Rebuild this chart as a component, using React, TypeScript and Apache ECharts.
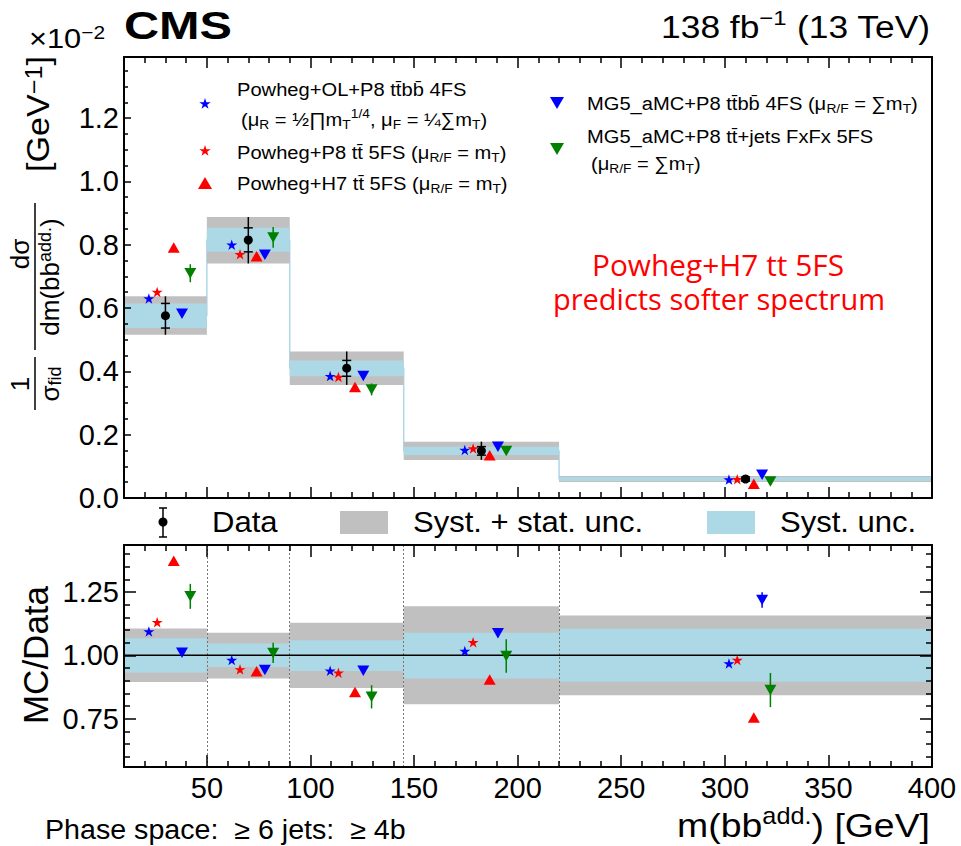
import React, { useEffect, useRef } from 'react';
import * as echarts from 'echarts';

// Bin edges of m(bb add.) in GeV
const binEdges = [10, 50, 90, 145, 220, 400];

// Measured normalised differential cross section, in units of 10^-2 GeV^-1
const dataXsec = [0.576, 0.815, 0.41, 0.149, 0.06];

// Uncertainty bands, expressed relative to the measured value
const totalUncLow = [0.895, 0.909, 0.871, 0.807, 0.843];
const totalUncHigh = [1.106, 1.089, 1.129, 1.194, 1.157];
const systUncLow = [0.932, 0.954, 0.938, 0.909, 0.896];
const systUncHigh = [1.067, 1.047, 1.06, 1.089, 1.105];

// Predictions (10^-2 GeV^-1)
const powhegOLTtbb4FS = [0.63, 0.8, 0.385, 0.1515, 0.0581];
const powhegP8Tt5FS = [0.651, 0.77, 0.382, 0.1567, 0.0589];
const powhegH7Tt5FS = [0.791, 0.764, 0.351, 0.1348, 0.0453];
const mg5Ttbb4FS = [0.582, 0.768, 0.385, 0.162, 0.0731];
const mg5TtJetsFxFx = [0.71, 0.823, 0.343, 0.1486, 0.0518];
// Relative statistical uncertainty of the MG5_aMC samples
const mg5Ttbb4FSStat = [0.008, 0.006, 0.008, 0.015, 0.025];
const mg5TtJetsFxFxStat = [0.04, 0.04, 0.055, 0.066, 0.078];

// Axis ticks
const xMajorTicks = [50, 100, 150, 200, 250, 300, 350, 400];
const xMinorTicks = [20, 30, 40, 60, 70, 80, 90, 110, 120, 130, 140, 160, 170, 180, 190, 210, 220, 230, 240,
  260, 270, 280, 290, 310, 320, 330, 340, 360, 370, 380, 390];
const xTickLabels = ['50', '100', '150', '200', '250', '300', '350', '400'];
const topYMajorTicks = [0, 0.2, 0.4, 0.6, 0.8, 1.0, 1.2];
const topYMinorTicks = [0.05, 0.1, 0.15, 0.25, 0.3, 0.35, 0.45, 0.5, 0.55, 0.65, 0.7, 0.75, 0.85, 0.9, 0.95,
  1.05, 1.1, 1.15, 1.25, 1.3, 1.35];
const topYTickLabels = ['0.0', '0.2', '0.4', '0.6', '0.8', '1.0', '1.2'];
const ratioYMajorTicks = [0.75, 1.0, 1.25];
const ratioYMinorTicks = [0.6, 0.65, 0.7, 0.8, 0.85, 0.9, 0.95, 1.05, 1.1, 1.15, 1.2, 1.3, 1.35, 1.4];
const ratioYTickLabels = ['0.75', '1.00', '1.25'];

const X_MIN = 10;
const X_MAX = 400;
const TOP_Y_MAX = 1.393;
const RATIO_Y_MIN = 0.56;
const RATIO_Y_MAX = 1.435;

const FONT = '"Liberation Sans", Arial, Helvetica, sans-serif';
const GRAY = '#c0c0c0';
const LIGHT_BLUE = '#add8e6';
const BLUE = '#0000ff';
const RED = '#ff0000';
const GREEN = '#008000';

const STAR = 'path://M0,-10L2.245,-3.09L9.511,-3.09L3.633,1.18L5.878,8.09L0,3.82L-5.878,8.09L-3.633,1.18L-9.511,-3.09L-2.245,-3.09Z';
const UP_TRI = 'path://M10,0L20,17L0,17Z';
const DOWN_TRI = 'path://M0,0L20,0L10,17Z';

type Model = {
  values: number[];
  color: string;
  symbol: string;
  size: number[];
  offset: number;
  stat?: number[];
};

const models: Model[] = [
  { values: powhegOLTtbb4FS, color: BLUE, symbol: STAR, size: [11, 10.5], offset: -8 },
  { values: powhegP8Tt5FS, color: RED, symbol: STAR, size: [11, 10.5], offset: -4 },
  { values: powhegH7Tt5FS, color: RED, symbol: UP_TRI, size: [12, 10.5], offset: 4 },
  { values: mg5Ttbb4FS, color: BLUE, symbol: DOWN_TRI, size: [12, 10.5], offset: 8, stat: mg5Ttbb4FSStat },
  { values: mg5TtJetsFxFx, color: GREEN, symbol: DOWN_TRI, size: [12, 10.5], offset: 12, stat: mg5TtJetsFxFxStat },
];

const binCenters = binEdges.slice(0, -1).map((lo, i) => (lo + binEdges[i + 1]) / 2);

function tickAxis(
  gridIndex: number,
  position: string,
  min: number,
  max: number,
  ticks: number[],
  length: number,
  showLine: boolean,
  labels?: { values: number[]; texts: string[]; margin: number },
) {
  return {
    type: 'value',
    gridIndex,
    position,
    min,
    max,
    z: 10,
    axisLine: { show: showLine, onZero: false, lineStyle: { color: '#000', width: 2 } },
    axisTick: { show: ticks.length > 0, inside: true, length, customValues: ticks, lineStyle: { color: '#000', width: 1.5 } },
    axisLabel: labels
      ? {
          show: true,
          customValues: labels.values,
          formatter: (v: number) => {
            const k = labels.values.findIndex((t) => Math.abs(t - v) < 1e-9);
            return k >= 0 ? labels.texts[k] : '';
          },
          margin: labels.margin,
          fontSize: 29,
          fontFamily: FONT,
          color: '#000',
        }
      : { show: false },
    splitLine: { show: false },
    minorTick: { show: false },
  };
}

function rectRender(_params: any, api: any) {
  const p0 = api.coord([api.value(0), api.value(3)]);
  const p1 = api.coord([api.value(1), api.value(2)]);
  return {
    type: 'rect',
    shape: { x: p0[0], y: p0[1], width: p1[0] - p0[0], height: p1[1] - p0[1] },
    style: { fill: api.visual('color') },
  };
}

function bandSeries(xi: number, yi: number, lo: number[], hi: number[], scale: number[], color: string, z: number) {
  return {
    type: 'custom',
    xAxisIndex: xi,
    yAxisIndex: yi,
    z,
    silent: true,
    itemStyle: { color },
    encode: { x: [0, 1], y: [2, 3] },
    data: binCenters.map((_, i) => [binEdges[i], binEdges[i + 1], lo[i] * scale[i], hi[i] * scale[i]]),
    renderItem: rectRender,
  };
}

function verticalBarSeries(xi: number, yi: number, items: number[][], color: string, z: number) {
  return {
    type: 'custom',
    xAxisIndex: xi,
    yAxisIndex: yi,
    z,
    silent: true,
    encode: { x: 0, y: [1, 2] },
    data: items,
    renderItem: (_p: any, api: any) => {
      const a = api.coord([api.value(0), api.value(1)]);
      const b = api.coord([api.value(0), api.value(2)]);
      return {
        type: 'line',
        shape: { x1: a[0], y1: a[1], x2: b[0], y2: b[1] },
        style: { stroke: color, lineWidth: 1.5 },
      };
    },
  };
}

function modelSeries(xi: number, yi: number, ratio: boolean) {
  const out: any[] = [];
  models.forEach((m) => {
    const ys = m.values.map((v, i) => (ratio ? v / dataXsec[i] : v));
    if (m.stat) {
      const items = ys.map((y, i) => [binCenters[i] + m.offset, y * (1 - m.stat![i]), y * (1 + m.stat![i])]);
      out.push(verticalBarSeries(xi, yi, items, m.color, 6));
    }
    out.push({
      type: 'scatter',
      xAxisIndex: xi,
      yAxisIndex: yi,
      z: 7,
      silent: true,
      symbol: m.symbol,
      symbolSize: m.size,
      itemStyle: { color: m.color, opacity: 1 },
      data: ys.map((y, i) => [binCenters[i] + m.offset, y]),
    });
  });
  return out;
}

function buildSeries() {
  const ones = dataXsec.map(() => 1);
  const series: any[] = [];

  // Upper panel: measured distribution drawn as a light blue step outline under the bands
  const stepPoints = binEdges.map((e, i) => [e, dataXsec[Math.min(i, dataXsec.length - 1)]]);
  series.push({
    type: 'line',
    xAxisIndex: 0,
    yAxisIndex: 0,
    z: 1,
    silent: true,
    step: 'end',
    showSymbol: false,
    symbol: 'none',
    lineStyle: { color: LIGHT_BLUE, width: 1.5 },
    data: stepPoints,
  });
  series.push(bandSeries(0, 0, totalUncLow, totalUncHigh, dataXsec, GRAY, 2));
  series.push(bandSeries(0, 0, systUncLow, systUncHigh, dataXsec, LIGHT_BLUE, 3));

  // Data points with total (line) and systematic (ticks) uncertainties
  series.push({
    type: 'custom',
    xAxisIndex: 0,
    yAxisIndex: 0,
    z: 8,
    silent: true,
    encode: { x: 0, y: [1, 2, 3, 4] },
    data: dataXsec.map((v, i) => [binCenters[i], v * totalUncLow[i], v * totalUncHigh[i], v * systUncLow[i], v * systUncHigh[i]]),
    renderItem: (_p: any, api: any) => {
      const x = api.value(0);
      const lo = api.coord([x, api.value(1)]);
      const hi = api.coord([x, api.value(2)]);
      const sLo = api.coord([x, api.value(3)]);
      const sHi = api.coord([x, api.value(4)]);
      const st = { stroke: '#000', lineWidth: 1.5 };
      return {
        type: 'group',
        children: [
          { type: 'line', shape: { x1: lo[0], y1: lo[1], x2: hi[0], y2: hi[1] }, style: st },
          { type: 'line', shape: { x1: sLo[0] - 4.5, y1: sLo[1], x2: sLo[0] + 4.5, y2: sLo[1] }, style: st },
          { type: 'line', shape: { x1: sHi[0] - 4.5, y1: sHi[1], x2: sHi[0] + 4.5, y2: sHi[1] }, style: st },
        ],
      };
    },
  });
  series.push(...modelSeries(0, 0, false));
  series.push({
    type: 'scatter',
    xAxisIndex: 0,
    yAxisIndex: 0,
    z: 9,
    silent: true,
    symbol: 'circle',
    symbolSize: 9,
    itemStyle: { color: '#000', opacity: 1 },
    data: dataXsec.map((v, i) => [binCenters[i], v]),
  });

  // Lower panel: MC / Data
  series.push(bandSeries(4, 3, totalUncLow, totalUncHigh, ones, GRAY, 2));
  series.push(bandSeries(4, 3, systUncLow, systUncHigh, ones, LIGHT_BLUE, 3));
  series.push({
    type: 'line',
    xAxisIndex: 4,
    yAxisIndex: 3,
    z: 5,
    silent: true,
    showSymbol: false,
    symbol: 'none',
    lineStyle: { color: '#000', width: 1.5 },
    data: [[X_MIN, 1], [X_MAX, 1]],
    markLine: {
      silent: true,
      symbol: ['none', 'none'],
      label: { show: false },
      lineStyle: { type: [2, 2], color: '#777', width: 1 },
      data: binEdges.slice(1, -1).map((e) => ({ xAxis: e })),
    },
  });
  series.push(...modelSeries(4, 3, true));
  return series;
}

function starPoints(cx: number, cy: number, r: number) {
  const pts: number[][] = [];
  for (let k = 0; k < 10; k++) {
    const rr = k % 2 === 0 ? r : r * 0.382;
    const a = -Math.PI / 2 + (k * Math.PI) / 5;
    pts.push([cx + rr * Math.cos(a), cy + rr * Math.sin(a)]);
  }
  return pts;
}

const subSup = (size: number, supScale = 0.68) => ({
  sub: { fontSize: Math.round(size * 0.68), lineHeight: Math.round(size * 0.68), verticalAlign: 'bottom', fontFamily: FONT, fill: '#000' },
  sup: { fontSize: Math.round(size * supScale), lineHeight: Math.round(size * supScale), verticalAlign: 'top', fontFamily: FONT, fill: '#000' },
});

function text(x: number, y: number, t: string, size: number, extra: any = {}, scaleX = 1) {
  return {
    type: 'text',
    x,
    y,
    scaleX,
    silent: true,
    style: {
      text: t,
      fontSize: size,
      fontFamily: FONT,
      fill: '#000',
      lineHeight: Math.round(size * 1.25),
      verticalAlign: 'middle',
      rich: subSup(size),
      ...extra,
    },
  };
}

function buildGraphic() {
  const g: any[] = [];
  const LS = 19;
  const LX = 1.06;
  // Upper legend, left column
  g.push({ type: 'polygon', shape: { points: starPoints(205, 104, 6) }, style: { fill: BLUE } });
  g.push(text(237, 89, 'Powheg+OL+P8 tt\u0304bb\u0304 4FS', LS, {}, LX));
  g.push(text(241, 119, '(μ{sub|R} = ½∏m{sub|T}{sup|1/4}, μ{sub|F} = ¼∑m{sub|T})', LS, {}, LX));
  g.push({ type: 'polygon', shape: { points: starPoints(205, 151, 6) }, style: { fill: RED } });
  g.push(text(237, 152, 'Powheg+P8 tt\u0304 5FS (μ{sub|R/F} = m{sub|T})', LS, {}, LX));
  g.push({ type: 'polygon', shape: { points: [[205, 177], [212, 189], [198, 189]] }, style: { fill: RED } });
  g.push(text(237, 183, 'Powheg+H7 tt\u0304 5FS (μ{sub|R/F} = m{sub|T})', LS, {}, LX));
  // Upper legend, right column
  g.push({ type: 'polygon', shape: { points: [[550, 97], [564, 97], [557, 109]] }, style: { fill: BLUE } });
  g.push(text(587, 103, 'MG5_aMC+P8 tt\u0304bb\u0304 4FS (μ{sub|R/F} = ∑m{sub|T})', LS, {}, LX));
  g.push({ type: 'polygon', shape: { points: [[550, 143], [564, 143], [557, 155]] }, style: { fill: GREEN } });
  g.push(text(587, 136, 'MG5_aMC+P8 tt\u0304+jets FxFx 5FS', LS, {}, LX));
  g.push(text(591, 163, '(μ{sub|R/F} = ∑m{sub|T})', LS, {}, LX));

  // Annotation
  const ann = { align: 'center', fill: RED, fontFamily: '"Open Sans", "Noto Sans", sans-serif', lineHeight: 31 };
  g.push(text(718, 265, 'Powheg+H7 tt 5FS', 29, ann, 1.03));
  g.push(text(719, 298, 'predicts softer spectrum', 29, ann));

  // Header
  g.push({
    type: 'text', x: 124, y: 26, scaleX: 1.28, silent: true,
    style: { text: 'CMS', fontSize: 38, fontWeight: 'bold', fontFamily: FONT, fill: '#000', verticalAlign: 'middle' },
  });
  g.push(text(930, 27, '138 fb{sup|−1} (13 TeV)', 31, { align: 'right' }, 1.14));
  g.push(text(29, 38, '×10{sup|−2}', 28, { lineHeight: 30 }, 1.1));

  // Y title of the upper panel, written bottom to top
  const yt = (x: number, y: number, t: string, size: number, va: string, sx = 1, supScale = 0.68) =>
    text(x, y, t, size, { align: 'center', verticalAlign: va, lineHeight: size + 2, rich: subSup(size, supScale) }, sx);
  g.push({
    type: 'group',
    x: 35,
    y: 420,
    rotation: Math.PI / 2,
    silent: true,
    children: [
      yt(36, -1, '1', 26, 'bottom'),
      { type: 'line', shape: { x1: 10, y1: 0, x2: 63, y2: 0 }, style: { stroke: '#000', lineWidth: 1.5 } },
      yt(36, 1, 'σ{sub|fid}', 26, 'top'),
      yt(166, -1, 'dσ', 26, 'bottom'),
      { type: 'line', shape: { x1: 70, y1: 0, x2: 217, y2: 0 }, style: { stroke: '#000', lineWidth: 1.5 } },
      yt(143, 1, 'dm(bb{sup|add.})', 26, 'top'),
      yt(306, 4, '[GeV{sup|−1}]', 31, 'middle', 1.1, 0.75),
    ],
  });

  // Legend between the panels
  g.push({ type: 'line', shape: { x1: 163, y1: 508, x2: 163, y2: 537 }, style: { stroke: '#000', lineWidth: 1.5 } });
  g.push({ type: 'line', shape: { x1: 159, y1: 508, x2: 167, y2: 508 }, style: { stroke: '#000', lineWidth: 1.5 } });
  g.push({ type: 'line', shape: { x1: 159, y1: 537, x2: 167, y2: 537 }, style: { stroke: '#000', lineWidth: 1.5 } });
  g.push({ type: 'circle', shape: { cx: 163, cy: 522, r: 4.5 }, style: { fill: '#000' } });
  g.push(text(212, 522, 'Data', 29, {}, 1.07));
  g.push({ type: 'rect', shape: { x: 340, y: 511, width: 48, height: 23 }, style: { fill: GRAY } });
  g.push(text(413, 522, 'Syst. + stat. unc.', 29, {}, 1.07));
  g.push({ type: 'rect', shape: { x: 707, y: 511, width: 48, height: 23 }, style: { fill: LIGHT_BLUE } });
  g.push(text(780, 522, 'Syst. unc.', 29, {}, 1.07));

  // Lower panel titles
  g.push({
    type: 'text', x: 35, y: 655, rotation: Math.PI / 2, silent: true,
    style: { text: 'MC/Data', fontSize: 35, fontFamily: FONT, fill: '#000', align: 'center', verticalAlign: 'middle' },
  });
  g.push(text(930, 826, 'm(bb{sup|add.}) [GeV]', 34, {
    align: 'right',
    rich: { sup: { fontSize: 23, lineHeight: 23, verticalAlign: 'top', fontFamily: FONT, fill: '#000' } },
  }, 1.1));
  g.push(text(45, 830, 'Phase space:  ≥ 6 jets:  ≥ 4b', 27, {}, 1.06));
  return g;
}

function buildOption() {
  return {
    animation: false,
    backgroundColor: '#fff',
    textStyle: { fontFamily: FONT },
    grid: [
      { left: 124, top: 57, width: 808, height: 441, containLabel: false, outerBoundsMode: 'none' },
      { left: 124, top: 545, width: 808, height: 222, containLabel: false, outerBoundsMode: 'none' },
    ],
    xAxis: [
      tickAxis(0, 'bottom', X_MIN, X_MAX, xMajorTicks, 11, true),
      tickAxis(0, 'bottom', X_MIN, X_MAX, xMinorTicks, 6, false),
      tickAxis(0, 'top', X_MIN, X_MAX, xMajorTicks, 11, true),
      tickAxis(0, 'top', X_MIN, X_MAX, xMinorTicks, 6, false),
      tickAxis(1, 'bottom', X_MIN, X_MAX, xMajorTicks, 12, true, { values: xMajorTicks, texts: xTickLabels, margin: 6 }),
      tickAxis(1, 'bottom', X_MIN, X_MAX, xMinorTicks, 6, false),
      tickAxis(1, 'top', X_MIN, X_MAX, xMajorTicks, 12, true),
      tickAxis(1, 'top', X_MIN, X_MAX, xMinorTicks, 6, false),
    ],
    yAxis: [
      tickAxis(0, 'left', 0, TOP_Y_MAX, topYMajorTicks, 7, true, { values: topYMajorTicks, texts: topYTickLabels, margin: 5 }),
      tickAxis(0, 'left', 0, TOP_Y_MAX, topYMinorTicks, 4, false),
      tickAxis(0, 'right', 0, TOP_Y_MAX, [], 0, true),
      tickAxis(1, 'left', RATIO_Y_MIN, RATIO_Y_MAX, ratioYMajorTicks, 12, true, { values: ratioYMajorTicks, texts: ratioYTickLabels, margin: 5 }),
      tickAxis(1, 'left', RATIO_Y_MIN, RATIO_Y_MAX, ratioYMinorTicks, 6, false),
      tickAxis(1, 'right', RATIO_Y_MIN, RATIO_Y_MAX, ratioYMajorTicks, 12, true),
      tickAxis(1, 'right', RATIO_Y_MIN, RATIO_Y_MAX, ratioYMinorTicks, 6, false),
    ],
    series: buildSeries(),
    graphic: buildGraphic(),
  };
}

export default function App() {
  const ref = useRef<HTMLDivElement>(null);
  useEffect(() => {
    if (!ref.current) return;
    const chart = echarts.init(ref.current, undefined, { renderer: 'svg' });
    chart.setOption(buildOption() as any);
    return () => chart.dispose();
  }, []);
  return (
    <div
      ref={ref}
      style={{ position: 'absolute', left: 0, top: 0, width: 961, height: 846, background: '#fff' }}
    />
  );
}
